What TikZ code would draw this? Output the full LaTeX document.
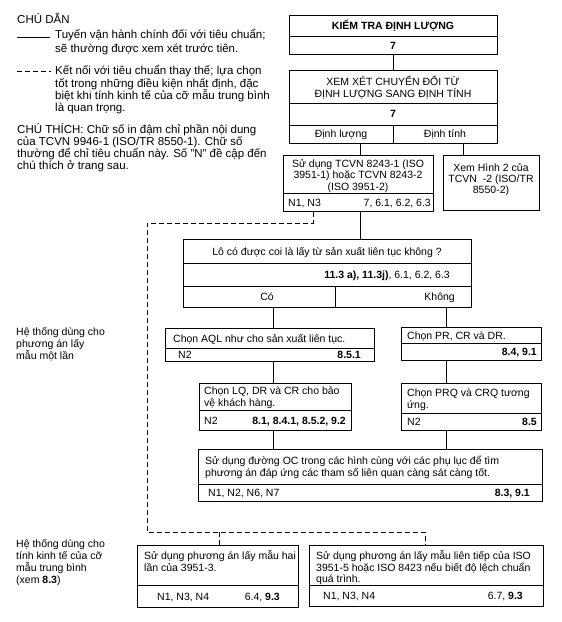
\documentclass[tikz,border=0pt]{standalone}
\usepackage{fontspec}
\setmainfont{Liberation Sans}
\newcommand\bxf{\fontsize{10.5}{12}\selectfont}
\newcommand\lgf{\fontsize{11.5}{13}\selectfont}
\begin{document}
\begin{tikzpicture}[x=1pt,y=-1pt,
  box/.style={draw, line width=0.95pt, inner sep=0pt, anchor=north west},
  dv/.style={line width=0.9pt},
  conn/.style={line width=0.8pt},
  dsh/.style={line width=0.8pt, dash pattern=on 5pt off 3pt},
  tx/.style={inner sep=0pt, font=\bxf},
  lg/.style={inner sep=0pt, font=\lgf, anchor=base west}]
\useasboundingbox (0,0) rectangle (562,622);

% ---------- legend ----------
\node[lg] (lg0) at (17,23.5) {CHÚ DẪN};
\draw[conn] (17,37) -- (50,37);
\node[lg] (lg1) at (55,38) {Tuyến vận hành chính đối với tiêu chuẩn;};
\node[lg] (lg2) at (55,52) {sẽ thường được xem xét trước tiên.};
\draw[dsh] (17,71) -- (51,71);
\node[lg] (lg3) at (55,74) {Kết nối với tiêu chuẩn thay thế; lựa chọn};
\node[lg] (lg4) at (55,87) {tốt trong những điều kiện nhất định, đặc};
\node[lg] (lg5) at (55,99) {biệt khi tính kinh tế của cỡ mẫu trung bình};
\node[lg] (lg6) at (55,111) {là quan trọng.};
\node[lg] (lg7) at (17,133) {CHÚ THÍCH: Chữ số in đậm chỉ phần nội dung};
\node[lg] (lg8) at (17,145) {của TCVN 9946-1 (ISO/TR 8550-1). Chữ số};
\node[lg] (lg9) at (17,157) {thường để chỉ tiêu chuẩn này. Số "N" đề cập đến};
\node[lg] (lg10) at (17,169) {chú thích ở trang sau.};

% ---------- side labels ----------
\node[tx,anchor=base west] (s1) at (16,335) {Hệ thống dùng cho};
\node[tx,anchor=base west] (s2) at (16,347) {phương án lấy};
\node[tx,anchor=base west] (s3) at (16,359) {mẫu một lần};
\node[tx,anchor=base west] (s4) at (16,547) {Hệ thống dùng cho};
\node[tx,anchor=base west] (s5) at (16,559) {tính kinh tế của cỡ};
\node[tx,anchor=base west] (s6) at (16,571) {mẫu trung bình};
\node[tx,anchor=base west] (s7) at (16,583) {(xem \textbf{8.3})};

% ---------- boxes ----------
\node[box, minimum width=208pt, minimum height=39pt] (b1) at (289,15) {};
\draw[dv] (289,36) -- (497,36);
\node[tx,anchor=base,font=\bxf\bfseries] (b1t) at (393,29.5) {KIỂM TRA ĐỊNH LƯỢNG};
\node[tx,anchor=base,font=\bxf\bfseries] (b1n) at (393,49) {7};

\node[box, minimum width=208pt, minimum height=73pt] (b2) at (289,70) {};
\draw[dv] (289,103) -- (497,103);
\draw[dv] (289,125) -- (497,125);
\draw[dv] (393,125) -- (393,143);
\node[tx,anchor=base] (b2t1) at (393,85) {XEM XÉT CHUYỂN ĐỔI TỪ};
\node[tx,anchor=base] (b2t2) at (393,97) {ĐỊNH LƯỢNG SANG ĐỊNH TÍNH};
\node[tx,anchor=base,font=\bxf\bfseries] (b2n) at (393,117.5) {7};
\node[tx,anchor=base] (b2a) at (341,137.5) {Định lượng};
\node[tx,anchor=base] (b2b) at (445,137.5) {Định tính};

\node[box, minimum width=150pt, minimum height=56pt] (b3) at (283,155) {};
\draw[dv] (283,193) -- (433,193);
\node[tx,anchor=base] (b3t1) at (358,167) {Sử dụng TCVN 8243-1 (ISO};
\node[tx,anchor=base] (b3t2) at (358,178.5) {3951-1) hoặc TCVN 8243-2};
\node[tx,anchor=base] (b3t3) at (358,190) {(ISO 3951-2)};
\node[tx,anchor=base west] (b3l) at (288,206) {N1, N3};
\node[tx,anchor=base east] (b3r) at (431,206) {7, 6.1, 6.2, 6.3};

\node[box, minimum width=96pt, minimum height=55pt] (b4) at (443,155) {};
\node[tx,anchor=base] (b4t1) at (491,171) {Xem Hình 2 của};
\node[tx,anchor=base] (b4t2) at (491,182) {TCVN\ \ -2 (ISO/TR};
\node[tx,anchor=base] (b4t3) at (491,193) {8550-2)};

\node[box, minimum width=288pt, minimum height=68pt] (b5) at (183,239) {};
\draw[dv] (183,263) -- (471,263);
\draw[dv] (183,286) -- (471,286);
\draw[dv] (335,286) -- (335,307);
\node[tx,anchor=base] (b5t) at (327,255) {Lô có được coi là lấy từ sản xuất liên tục không ?};
\node[tx,anchor=base east] (b5r) at (450,278) {\textbf{11.3 a), 11.3j)}, 6.1, 6.2, 6.3};
\node[tx,anchor=base] (b5a) at (267,300) {Có};
\node[tx,anchor=base east] (b5b) at (455,300) {Không};

\node[box, minimum width=209pt, minimum height=33pt] (b6) at (165,328) {};
\draw[dv] (165,348) -- (374,348);
\node[tx,anchor=base west] (b6t) at (173,342) {Chọn AQL như cho sản xuất liên tục.};
\node[tx,anchor=base west] (b6l) at (178,358.5) {N2};
\node[tx,anchor=base east,font=\bxf\bfseries] (b6r) at (361,358.5) {8.5.1};

\node[box, minimum width=140pt, minimum height=33pt] (b7) at (401,327) {};
\draw[dv] (401,343) -- (541,343);
\node[tx,anchor=base west] (b7t) at (407,339) {Chọn PR, CR và DR.};
\node[tx,anchor=base east,font=\bxf\bfseries] (b7r) at (537,355.5) {8.4, 9.1};

\node[box, minimum width=152pt, minimum height=47pt] (b8) at (199,383) {};
\draw[dv] (199,410) -- (351,410);
\node[tx,anchor=base west] (b8t1) at (204,394.5) {Chọn LQ, DR và CR cho bảo};
\node[tx,anchor=base west] (b8t2) at (204,406) {vệ khách hàng.};
\node[tx,anchor=base west] (b8l) at (204,424.5) {N2};
\node[tx,anchor=base east,font=\bxf\bfseries] (b8r) at (346,424.5) {8.1, 8.4.1, 8.5.2, 9.2};

\node[box, minimum width=140pt, minimum height=47pt] (b9) at (401,383) {};
\draw[dv] (401,413) -- (541,413);
\node[tx,anchor=base west] (b9t1) at (407,396) {Chọn PRQ và CRQ tương};
\node[tx,anchor=base west] (b9t2) at (407,408.5) {ứng.};
\node[tx,anchor=base west] (b9l) at (407,425.5) {N2};
\node[tx,anchor=base east,font=\bxf\bfseries] (b9r) at (537,425.5) {8.5};

\node[box, minimum width=344pt, minimum height=52pt] (b10) at (198,449) {};
\draw[dv] (198,484) -- (542,484);
\node[tx,anchor=base west] (b10t1) at (205,464) {Sử dụng đường OC trong các hình cùng với các phụ lục để tìm};
\node[tx,anchor=base west] (b10t2) at (205,476) {phương án đáp ứng các tham số liên quan càng sát càng tốt.};
\node[tx,anchor=base west] (b10l) at (208,496.5) {N1, N2, N6, N7};
\node[tx,anchor=base east,font=\bxf\bfseries] (b10r) at (530,496.5) {8.3, 9.1};

\node[box, minimum width=161pt, minimum height=62pt] (b11) at (137,545) {};
\draw[dv] (137,585) -- (298,585);
\node[tx,anchor=base west] (b11t1) at (144,559) {Sử dụng phương án lấy mẫu hai};
\node[tx,anchor=base west] (b11t2) at (144,571) {lần của 3951-3.};
\node[tx,anchor=base west] (b11l) at (157,600) {N1, N3, N4};
\node[tx,anchor=base east] (b11r) at (280,600) {6.4, \textbf{9.3}};

\node[box, minimum width=234pt, minimum height=61pt] (b12) at (309,545) {};
\draw[dv] (309,585) -- (543,585);
\node[tx,anchor=base west] (b12t1) at (316,559) {Sử dụng phương án lấy mẫu liên tiếp của ISO};
\node[tx,anchor=base west] (b12t2) at (316,571) {3951-5 hoặc ISO 8423 nếu biết độ lệch chuẩn};
\node[tx,anchor=base west] (b12t3) at (316,582.5) {quá trình.};
\node[tx,anchor=base west] (b12l) at (323,599.5) {N1, N3, N4};
\node[tx,anchor=base east] (b12r) at (523,599.5) {6.7, \textbf{9.3}};

% ---------- connectors ----------
\coordinate (cA) at (360,0);
\coordinate (cB) at (463,0);
\coordinate (cL) at (273,0);
\coordinate (cR) at (446,0);
\draw[conn] (b1.south) -- (b2.north);
\draw[conn] (b2.south -| cA) -- (b3.north -| cA);
\draw[conn] (b2.south -| cB) -- (b4.north -| cB);
\draw[conn] (b3.south -| cA) -- (b5.north -| cA);
\draw[conn] (b5.south -| cL) -- (b6.north -| cL);
\draw[conn] (b5.south -| cR) -- (b7.north -| cR);
\draw[conn] (b6.south -| cL) -- (b8.north -| cL);
\draw[conn] (b7.south -| cR) -- (b9.north -| cR);
\draw[conn] (b8.south -| cL) -- (b10.north -| cL);
\draw[conn] (b9.south -| cR) -- (b10.north -| cR);

\coordinate (d1) at (313,223);
\coordinate (d2) at (147,223);
\coordinate (d3) at (147,532);
\coordinate (d4) at (425,532);
\coordinate (d5) at (219,532);
\draw[dsh] (b3.south -| d1) -- (d1) -- (d2) -- (d3) -- (d4) -- (b12.north -| d4);
\draw[dsh] (d5) -- (b11.north -| d5);
\end{tikzpicture}
\end{document}
